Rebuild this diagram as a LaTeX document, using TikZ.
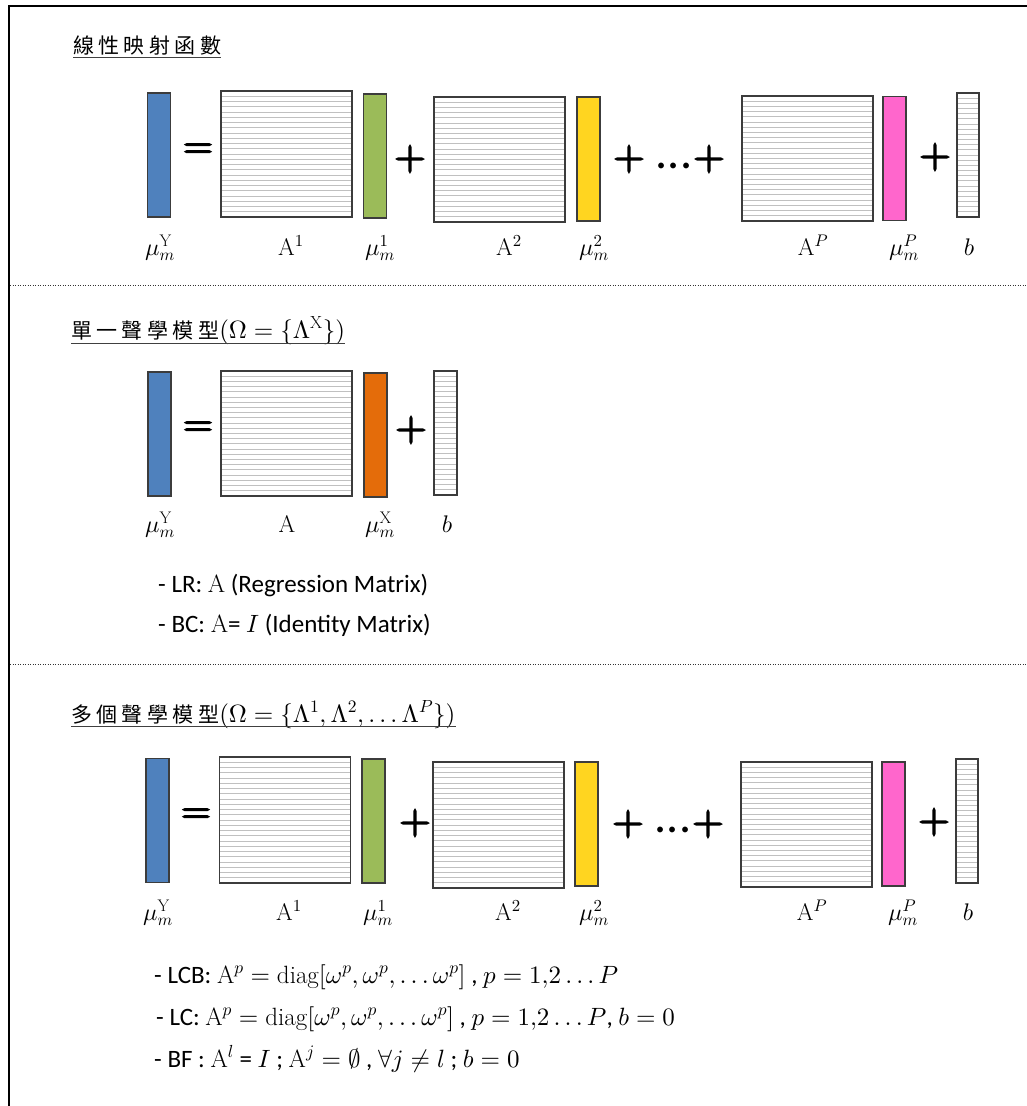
\documentclass[tikz,border=0pt]{standalone}
\usepackage{fontspec}
\newfontfamily\calib{Carlito}
\newfontfamily\cjk{Noto Sans CJK TC}
\newfontfamily\symfont{Latin Modern Roman}[FakeBold=4]
\DeclareFontFamily{OML}{cmm}{\skewchar\font127 }
\DeclareFontShape{OML}{cmm}{m}{it}{<-> cmmi10}{}
\DeclareFontShape{OML}{cmm}{b}{it}{<-> cmmib10}{}
\DeclareFontFamily{OMS}{cmsy}{\skewchar\font48 }
\DeclareFontShape{OMS}{cmsy}{m}{n}{<-> cmsy10}{}
\DeclareFontShape{OMS}{cmsy}{b}{n}{<-> cmbsy10}{}
\DeclareFontFamily{OMX}{cmex}{}
\DeclareFontShape{OMX}{cmex}{m}{n}{<-> cmex10}{}
\DeclareFontFamily{OT1}{cmr}{\hyphenchar\font45 }
\DeclareFontShape{OT1}{cmr}{m}{n}{<-> cmr10}{}
\usetikzlibrary{calc}
\definecolor{cblue}{HTML}{4F81BD}
\definecolor{cgreen}{HTML}{9BBB59}
\definecolor{cyellow}{HTML}{FFD520}
\definecolor{cpink}{HTML}{FF66CC}
\definecolor{corange}{HTML}{E46C0A}
\definecolor{edgec}{HTML}{3C3C3C}
\definecolor{hatchc}{HTML}{C0C0C0}
\tikzset{
  hatched/.style={path picture={
    \foreach \i in {1,...,#1}{
      \draw[hatchc, line width=1pt]
        ($(path picture bounding box.north west)!{\i/(#1+1)}!(path picture bounding box.south west)$) --
        ($(path picture bounding box.north east)!{\i/(#1+1)}!(path picture bounding box.south east)$);}}},
  vecbox/.style={draw=edgec, line width=1.2pt, inner sep=0pt, minimum width=23pt, minimum height=124pt},
  matbox/.style={draw=edgec, fill=white, line width=1.2pt, inner sep=0pt, minimum width=131pt, minimum height=125pt, hatched=23},
  bvec/.style={draw=edgec, fill=white, line width=1.2pt, inner sep=0pt, minimum width=22pt, minimum height=124pt, hatched=23},
  bigsym/.style={font=\symfont\fontsize{42}{42}\selectfont, inner sep=0pt},
  eqsym/.style={font=\symfont\fontsize{40}{40}\selectfont, inner sep=0pt},
  dotsym/.style={font=\calib\fontsize{48}{48}\selectfont, inner sep=0pt},
  lab/.style={font=\fontsize{24}{26}\selectfont, anchor=base, inner sep=0pt},
  body/.style={font=\calib\fontsize{25}{28}\selectfont, anchor=base west, inner sep=0pt},
  ttl/.style={font=\fontsize{25}{28}\selectfont, anchor=base west, inner sep=0pt},
  uline/.style={line width=1pt, black!75},
  frame/.style={line width=2.5pt, black},
  sep/.style={line width=1pt, black!80, dash pattern=on 1pt off 1.5pt}
}
\newcommand\cjkt[1]{{\cjk\fontsize{21}{24}\selectfont\addfontfeature{LetterSpace=21}#1}}
\begin{document}
\begin{tikzpicture}[x=1pt,y=-1pt]
\useasboundingbox[fill=white] (0,0) rectangle (1027,1106);
% frame
\coordinate (ftl) at (9,6);
\coordinate (ftr) at (1027,6);
\coordinate (fbl) at (9,1106);
\draw[frame] (ftr) -- (ftl) -- (fbl);
\coordinate (s1l) at (10,285);
\coordinate (s1r) at (1027,285);
\coordinate (s2l) at (10,664);
\coordinate (s2r) at (1027,664);
\draw[sep] (s1l) -- (s1r);
\draw[sep] (s2l) -- (s2r);

% ---------- section 1 ----------
\node[ttl] (t1) at (73,53) {\cjkt{線性映射函數}};
\draw[uline] ($(t1.base west)+(0,4)$) -- ($(t1.base east)+(0,4)$);

\node[vecbox, fill=cblue] (r1y) at (159,155) {};
\node[eqsym] (r1eq) at (198,151) {=};
\node[matbox, minimum height=126pt] (r1a1) at (286.5,154) {};
\node[vecbox, fill=cgreen] (r1m1) at (375,156) {};
\node[bigsym] (r1p1) at (410,159) {+};
\node[matbox] (r1a2) at (499.5,159.5) {};
\node[vecbox, fill=cyellow] (r1m2) at (588.5,159) {};
\node[bigsym] (r1p2) at (629,159) {+};
\node[dotsym] (r1d) at (674,166) {...};
\node[bigsym] (r1p3) at (709,159) {+};
\node[matbox] (r1ap) at (807.5,158.5) {};
\node[vecbox, fill=cpink] (r1mp) at (894.5,158.5) {};
\node[bigsym] (r1p4) at (935,157) {+};
\node[bvec] (r1b) at (968,155) {};

\node[lab] (r1ly) at (160,255) {$\mu_m^{\mathrm{Y}}$};
\node[lab] (r1la1) at (291,255) {$\mathrm{A}^1$};
\node[lab] (r1lm1) at (380,255) {$\mu_m^1$};
\node[lab] (r1la2) at (509,255) {$\mathrm{A}^2$};
\node[lab] (r1lm2) at (594,255) {$\mu_m^2$};
\node[lab] (r1lap) at (813,255) {$\mathrm{A}^P$};
\node[lab] (r1lmp) at (904,255) {$\mu_m^P$};
\node[lab] (r1lb) at (969,255) {$b$};

% ---------- section 2 ----------
\node[ttl] (t2) at (71,338) {\cjkt{單一聲學模型}$(\Omega = \{\Lambda^{\mathrm{X}}\})$};
\draw[uline] ($(t2.base west)+(0,5)$) -- ($(t2.base east)+(0,5)$);

\node[vecbox, fill=cblue] (r2y) at (159.5,434) {};
\node[eqsym] (r2eq) at (198,429) {=};
\node[matbox] (r2a) at (286.5,433.5) {};
\node[vecbox, fill=corange] (r2mx) at (375.5,435) {};
\node[bigsym] (r2p) at (411,430) {+};
\node[bvec, minimum width=23pt] (r2b) at (445.5,433) {};

\node[lab] (r2ly) at (160,532) {$\mu_m^{\mathrm{Y}}$};
\node[lab] (r2la) at (287,532) {$\mathrm{A}$};
\node[lab] (r2lm) at (380,532) {$\mu_m^{\mathrm{X}}$};
\node[lab] (r2lb) at (447,532) {$b$};

\node[body] (lr) at (158,592) {- LR: $\mathrm{A}$ (Regression Matrix)};
\node[body] (bc) at (158,632) {- BC: $\mathrm{A}$= $I$ (Identity Matrix)};

% ---------- section 3 ----------
\node[ttl] (t3) at (71,722) {\cjkt{多個聲學模型}$(\Omega = \{\Lambda^1, \Lambda^2, {\ldots}\,\Lambda^P\})$};
\draw[uline] ($(t3.base west)+(0,4)$) -- ($(t3.base east)+(0,4)$);

\node[vecbox, fill=cblue] (r3y) at (157.5,820.5) {};
\node[eqsym] (r3eq) at (196,816) {=};
\node[matbox, minimum height=126pt] (r3a1) at (285,820) {};
\node[vecbox, fill=cgreen] (r3m1) at (373.5,821) {};
\node[bigsym] (r3p1) at (415,823) {+};
\node[matbox, minimum height=126pt] (r3a2) at (498.5,825) {};
\node[vecbox, fill=cyellow] (r3m2) at (586.5,824) {};
\node[bigsym] (r3p2) at (628,824) {+};
\node[dotsym] (r3d) at (673,830) {...};
\node[bigsym] (r3p3) at (708,824) {+};
\node[matbox] (r3ap) at (806.5,824.5) {};
\node[vecbox, fill=cpink] (r3mp) at (893.5,824) {};
\node[bigsym] (r3p4) at (934,822) {+};
\node[bvec] (r3b) at (967,821) {};

\node[lab] (r3ly) at (158,920) {$\mu_m^{\mathrm{Y}}$};
\node[lab] (r3la1) at (289,920) {$\mathrm{A}^1$};
\node[lab] (r3lm1) at (378,920) {$\mu_m^1$};
\node[lab] (r3la2) at (508,920) {$\mathrm{A}^2$};
\node[lab] (r3lm2) at (594,920) {$\mu_m^2$};
\node[lab] (r3lap) at (812,920) {$\mathrm{A}^P$};
\node[lab] (r3lmp) at (903,920) {$\mu_m^P$};
\node[lab] (r3lb) at (968,920) {$b$};

\node[body] (lcb) at (154,983) {- LCB: $\mathrm{A}^p = \mathrm{diag}[\omega^p, \omega^p, \ldots \omega^p]$ , $p = 1{,}2 \ldots P$};
\node[body] (lc) at (156,1025) {- LC: $\mathrm{A}^p = \mathrm{diag}[\omega^p, \omega^p, \ldots \omega^p]$ , $p = 1{,}2 \ldots P$, $b = 0$};
\node[body] (bf) at (154,1067) {- BF : $\mathrm{A}^l$ = $I$ ; $\mathrm{A}^j = \emptyset$ , $\forall j \neq l$ ; $b = 0$};
\end{tikzpicture}
\end{document}
